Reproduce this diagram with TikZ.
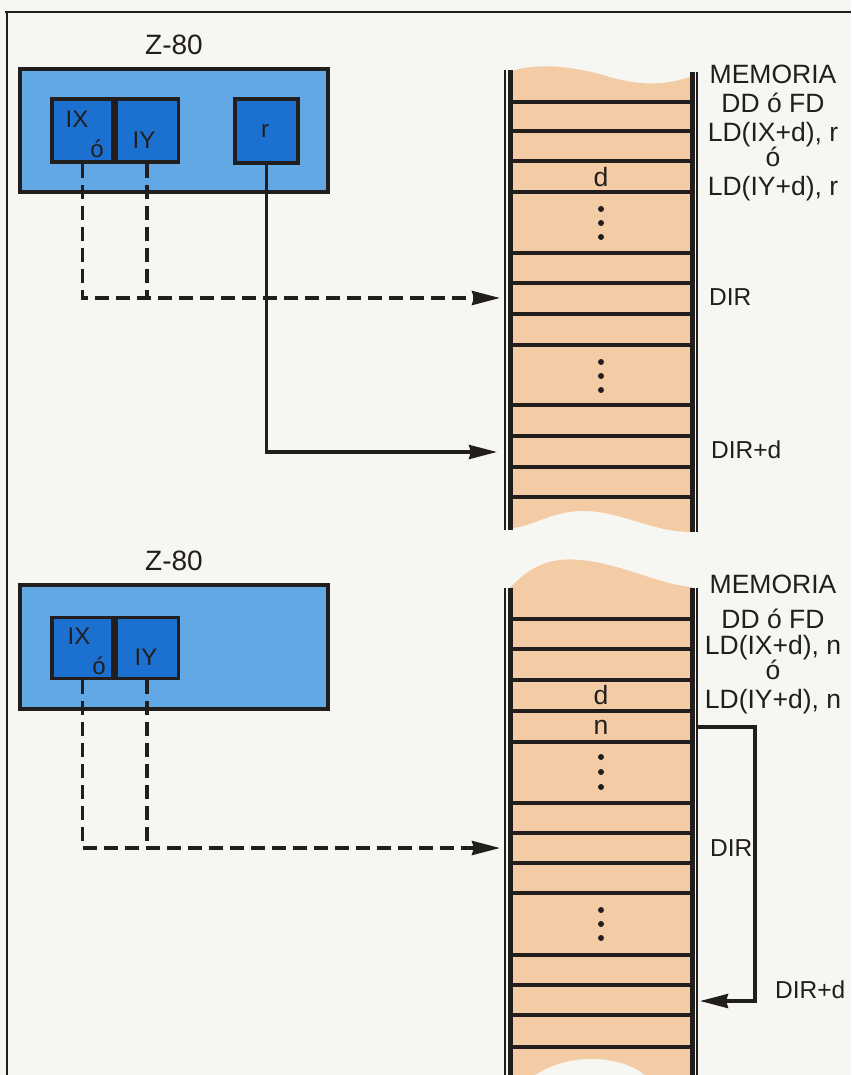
\documentclass[tikz,border=0pt]{standalone}
\usepackage{fontspec}
\setmainfont{Liberation Sans}
\usetikzlibrary{arrows.meta, positioning}

\definecolor{papel}{RGB}{246,246,243}
\definecolor{cpuazul}{RGB}{98,168,228}
\definecolor{regazul}{RGB}{28,112,208}
\definecolor{memcolor}{RGB}{243,204,166}
\definecolor{tinta}{RGB}{35,30,30}

\tikzset{
  cpu/.style={draw=tinta, line width=3.2pt, fill=cpuazul, minimum width=308pt, minimum height=123pt, inner sep=0pt},
  reg/.style={draw=tinta, line width=3.2pt, fill=regazul, minimum width=62pt, minimum height=63pt, inner sep=0pt},
  texto/.style={font=\fontsize{26.5}{29}\selectfont, text=tinta, inner sep=0pt},
  etiqueta/.style={font=\fontsize{24.5}{28}\selectfont, text=tinta, inner sep=0pt},
  regtexto/.style={font=\fontsize{24}{26}\selectfont, text=tinta, inner sep=0pt},
  celda/.style={draw=tinta, line width=4pt},
  borde/.style={draw=tinta, line width=5pt},
  fino/.style={draw=tinta, line width=1.8pt},
  conexion/.style={draw=tinta, line width=3.5pt},
  discont/.style={dash pattern=on 14pt off 7pt},
  flecha/.style={-{Stealth[length=28pt, width=14pt, inset=2pt]}}
}

\begin{document}
\begin{tikzpicture}[x=1pt, y=-1pt]
  \useasboundingbox (0,0) rectangle (851,1075);
  \fill[papel] (0,0) rectangle (851,1075);

  % marco de la pagina
  \draw[tinta, line width=2.2pt] (5,12) -- (851,12);
  \draw[tinta, line width=2.2pt] (7,12) -- (7,1075);

  %%% parte superior
  \node [cpu] (cpu1) at (174,130.5) {};
  \node [texto, font=\fontsize{28}{30}\selectfont, above=12pt of cpu1] (z1) {Z-80};
  \node [reg, minimum width=61pt] (ix1) at (82.5,130.5) {};
  \node [reg, right=0pt of ix1] (iy1) {};
  \node [reg, minimum width=63pt, minimum height=64pt] (r1) at (266.5,131) {};
  \node [regtexto] (ix1t) at (77,119.5) {IX};
  \node [regtexto] (o1t) at (97,149) {ó};
  \node [regtexto] (iy1t) at (144,140) {IY};
  \node [regtexto] (r1t) at (265,131) {r};

  % memoria
  \fill[memcolor] (510,72) .. controls (530,64) and (560,64) .. (600,74)
    .. controls (630,84) and (660,88) .. (692,76) -- (692,532)
    .. controls (650,532) and (620,510) .. (580,511)
    .. controls (550,512) and (530,528) .. (510,528) -- cycle;
  \foreach \y in {102,131,161,192,253,283,314,345,405,436,467,497}
    \draw[celda] (510,\y) -- (692,\y);
  \draw[borde] (510,70) -- (510,530);
  \draw[borde] (692,72) -- (692,532);
  \draw[fino] (505,70) -- (505,530);
  \draw[fino] (697,72) -- (697,532);
  \foreach \y in {209,223,237,362,376,390}
    \fill[tinta] (601,\y) circle (3pt);
  \node [texto] (d1) at (601,177) {d};

  \node [texto, align=center, anchor=north] (mem1) at (773,65)
    {MEMORIA\\DD ó FD\\LD(IX+d), r\\[-4pt]ó\\LD(IY+d), r};
  \node [etiqueta, anchor=west] (dir1t) at (709,297) {DIR};
  \node [etiqueta, anchor=west] (dird1t) at (711,450) {DIR+d};

  \coordinate (dir1) at (500,298);
  \coordinate (dird1) at (497,452);
  \draw[conexion, discont, flecha] (ix1.south) |- (dir1);
  \draw[conexion, discont] (iy1.south) -- (iy1.south |- dir1);
  \draw[conexion, flecha] (r1.south) |- (dird1);

  %%% parte inferior
  \node [cpu, minimum height=124pt] (cpu2) at (174,647) {};
  \node [texto, font=\fontsize{28}{30}\selectfont, above=12pt of cpu2] (z2) {Z-80};
  \node [reg, minimum width=61pt, minimum height=61pt] (ix2) at (82.5,648) {};
  \node [reg, minimum height=61pt, right=0pt of ix2] (iy2) {};
  \node [regtexto] (ix2t) at (79,636) {IX};
  \node [regtexto] (o2t) at (99,666) {ó};
  \node [regtexto] (iy2t) at (146,657) {IY};

  % memoria
  \fill[memcolor] (510,588) .. controls (535,560) and (560,558) .. (580,560)
    .. controls (620,563) and (660,585) .. (692,587) -- (692,1075) -- (645,1075)
    .. controls (620,1055) and (570,1052) .. (535,1075) -- (510,1075) -- cycle;
  \foreach \y in {619,649,680,711,742,803,833,863,893,955,985,1015,1047}
    \draw[celda] (510,\y) -- (692,\y);
  \draw[borde] (510,588) -- (510,1075);
  \draw[borde] (692,588) -- (692,1075);
  \draw[fino] (505,588) -- (505,1075);
  \draw[fino] (697,588) -- (697,1075);
  \foreach \y in {757,772,787,910,924,938}
    \fill[tinta] (601,\y) circle (3pt);
  \node [texto] (d2) at (601,695) {d};
  \node [texto] (n2t) at (601,727) {n};

  \node [texto, align=center, anchor=north] (mem2) at (773,575)
    {MEMORIA\\[6pt]DD ó FD\\[-3pt]LD(IX+d), n\\[-4pt]ó\\LD(IY+d), n};
  \node [etiqueta, anchor=west] (dir2t) at (710,848) {DIR};
  \node [etiqueta, anchor=west] (dird2t) at (775,990) {DIR+d};

  \coordinate (dir2) at (500,848);
  \coordinate (n2) at (697,727);
  \coordinate (lazo) at (755,727);
  \coordinate (dird2) at (700,1001);
  \draw[conexion, discont, flecha] (ix2.south) |- (dir2);
  \draw[conexion, discont] (iy2.south) -- (iy2.south |- dir2);
  \draw[conexion, flecha] (n2) -- (lazo) |- (dird2);
\end{tikzpicture}
\end{document}
